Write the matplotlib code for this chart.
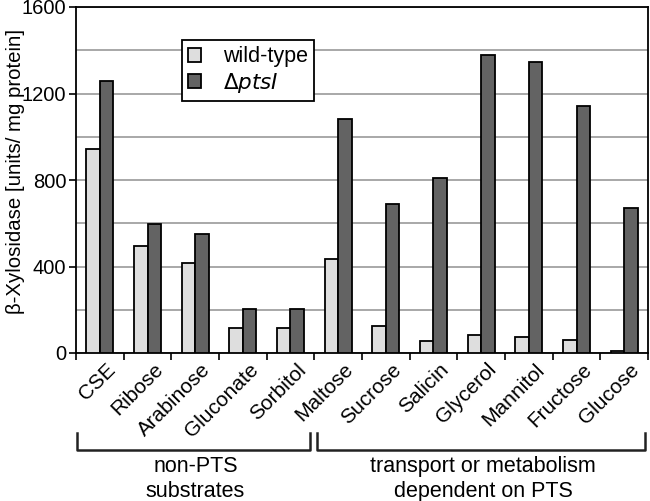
import matplotlib
matplotlib.use("Agg")
import matplotlib.pyplot as plt
import numpy as np

categories = ["CSE", "Ribose", "Arabinose", "Gluconate", "Sorbitol", "Maltose",
              "Sucrose", "Salicin", "Glycerol", "Mannitol", "Fructose", "Glucose"]
wild_type = [945, 495, 415, 117, 115, 435, 126, 55, 83, 72, 60, 8]
delta_ptsI = [1260, 595, 550, 202, 202, 1080, 690, 810, 1380, 1345, 1140, 670]
y_ticks = [0, 400, 800, 1200, 1600]
group_labels = ["non-PTS\nsubstrates", "transport or metabolism\ndependent on PTS"]

plt.rcParams['font.family'] = ['Liberation Sans', 'DejaVu Sans']

fig = plt.figure(figsize=(6.5, 5.01), dpi=100)
ax = fig.add_axes([76/650, 1-353/501, (648-76)/650, (353-7)/501])

x = np.arange(len(categories))
w = 0.28
ax.bar(x - w/2, wild_type, w, color='#dedede', edgecolor='black', linewidth=1.3,
       label='wild-type', zorder=3)
ax.bar(x + w/2, delta_ptsI, w, color='#636363', edgecolor='black', linewidth=1.3,
       label=r'$\Delta$$\it{ptsI}$', zorder=3)

ax.set_xlim(-0.5, len(categories) - 0.5)
ax.set_ylim(0, 1600)
ax.set_yticks(y_ticks)
ax.set_yticks(np.arange(0, 1601, 200), minor=True)
ax.yaxis.grid(True, which='both', color='#a8a8a8', linewidth=1.4, zorder=0)
ax.tick_params(axis='y', which='major', labelsize=14.5, length=5, width=1.2, pad=2)
ax.tick_params(axis='y', which='minor', length=0)

ax.set_xticks(np.arange(-0.5, len(categories) - 0.4, 1.0))
ax.set_xticklabels([])
ax.tick_params(axis='x', which='major', length=5, width=1.2)
ax.set_xticks(x + 0.12, minor=True)
ax.set_xticklabels(categories, minor=True, rotation=45, ha='right',
                   rotation_mode='anchor', fontsize=15)
ax.tick_params(axis='x', which='minor', length=0, pad=5)

for s in ax.spines.values():
    s.set_linewidth(1.3)
    s.set_color('black')

ax.set_ylabel('β-Xylosidase [units/ mg protein]', fontsize=14.7, va='center')
ax.yaxis.set_label_coords((16 - 76) / 572, (353 - 171) / 346)

leg = ax.legend(loc='upper left', bbox_to_anchor=(0.185, 0.905), fontsize=15.5,
                frameon=True, fancybox=False, edgecolor='black', framealpha=1,
                handlelength=0.6, handleheight=0.6, borderpad=0.3,
                labelspacing=0.15, handletextpad=1.0, borderaxespad=0)
leg.get_frame().set_linewidth(1.3)

# brackets in figure pixel coordinates
def fx(px):
    return px / 650
def fy(py):
    return 1 - py / 501

brackets = [(77, 310), (317, 645)]
for (x0, x1), lab in zip(brackets, group_labels):
    fig.add_artist(plt.Line2D([fx(x0), fx(x0), fx(x1), fx(x1)],
                              [fy(433), fy(450), fy(450), fy(433)],
                              color='#222222', linewidth=1.8))
    fig.text(fx((x0 + x1) / 2 + 2), fy(479), lab, ha='center', va='center',
             fontsize=15.5, linespacing=1.2)

fig.savefig('out.png', dpi=100)
